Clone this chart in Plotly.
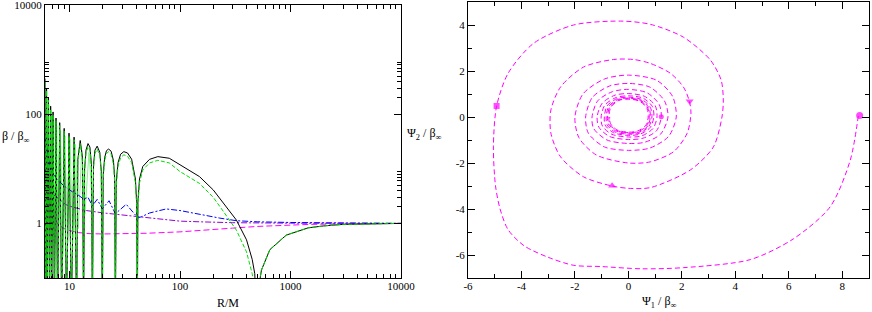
import plotly.graph_objects as go

# ---------------- left panel data (R/M vs beta/beta_inf) ----------------
Z = 0.02  # values below the visible bottom (curve zeros)

black_R = [6.0, 6.1, 6.2, 6.3, 6.45, 6.6, 6.75, 6.9, 7.1, 7.3, 7.55, 7.8, 8.15, 8.5,
           8.95, 9.4, 9.9, 10.4, 11.0, 11.6, 11.9, 12.5, 13.1, 13.4, 13.7, 14.1, 14.7,
           15.3, 15.8, 16.1, 16.5, 17.0, 17.8, 18.8, 19.4, 19.8, 20.2, 20.8, 21.6, 22.6,
           23.8, 25.0, 25.6, 26.0, 26.5, 27.5, 29.0, 31.0, 33.5, 36.5, 39.5, 40.5, 41.1,
           41.6, 43.0, 46.0, 53.0, 63.0, 80.0, 100.0, 150.0, 200.0, 250.0, 324.0, 400.0,
           450.0, 475.0, 490.0, 510.0, 546.0, 650.0, 915.0, 1450.0, 2000.0, 3000.0,
           5000.0, 10000.0]
black_y = [450, Z, 300, Z, 200, Z, 140, Z, 110, Z, 85, Z, 70, Z,
           55, Z, 45, Z, 38, Z, 15, 33, 16, Z, 10, 22, 29,
           25, 12, Z, 12, 22, 26, 20, 9, Z, 8, 16, 21.5, 23,
           21, 14, 7, Z, 6, 13, 18.5, 20.6, 19.5, 15, 6.5, 2.5, Z,
           2.5, 6.5, 11, 14.9, 16.7, 15.6, 11.7, 7.2, 4.1, 2.3, 1.15, 0.5,
           0.22, 0.12, Z, 0.06, 0.14, 0.33, 0.61, 0.83, 0.9, 0.96,
           0.99, 1.0]

green_R = black_R
green_y = [400, Z, 270, Z, 180, Z, 125, Z, 98, Z, 76, Z, 62, Z,
           49, Z, 40, Z, 34, Z, 13, 29, 14, Z, 9, 19, 25.5,
           22, 10, Z, 10, 19, 23, 17.5, 8, Z, 7, 14, 19, 20.5,
           18.5, 12, 6, Z, 5, 11, 16, 18, 17, 13, 5.5, 2.2, Z,
           2.2, 5.5, 9.5, 12.8, 14.3, 12.8, 8.9, 5.4, 3.0, 1.6, 0.75, 0.3,
           0.12, 0.06, Z, 0.06, 0.14, 0.33, 0.61, 0.83, 0.9, 0.96,
           0.99, 1.0]

lgreen_R = [6.0, 6.15, 6.25, 6.4, 6.5, 6.7, 6.85, 7.0, 7.2, 7.4, 7.65, 7.9, 8.3, 8.7,
            9.1, 9.6, 10.1, 10.7, 11.3, 12.0, 12.9, 13.8, 15.0, 16.0]
lgreen_y = [300, 2.0, 200, 1.5, 150, 0.8, 100, 0.5, 80, 0.4, 60, 0.3, 50, 0.25,
            40, 0.35, 35, 0.5, 28, 0.8, 22, 1.5, 20, 3.0]

blue_R = [6.0, 6.2, 6.5, 7.0, 7.5, 8.1, 9.0, 10.6, 12.0, 13.4, 14.7, 16.1, 17.8, 19.8,
          22.8, 26.0, 32.6, 41.6, 45.0, 53.0, 75.0, 100.0, 150.0, 229.0, 324.0, 500.0,
          1000.0, 2000.0, 5000.0, 10000.0]
blue_y = [40, 25, 14, 8.5, 6.8, 5.8, 4.8, 3.8, 3.3, 2.8, 3.0, 2.1, 2.75, 1.85,
          2.6, 1.5, 2.24, 1.26, 1.33, 1.55, 1.84, 1.72, 1.45, 1.25, 1.12, 1.07,
          1.04, 1.02, 1.01, 1.0]

purple_R = [6.3, 6.6, 7.0, 8.0, 9.3, 10.6, 14.2, 20.0, 26.5, 40.0, 53.0, 100.0, 150.0,
            300.0, 1000.0, 10000.0]
purple_y = [5.0, 4.1, 3.5, 2.8, 2.2, 2.0, 1.72, 1.56, 1.47, 1.33, 1.25, 1.1, 1.07,
            1.03, 1.01, 1.0]

magenta_R = [6.0, 6.3, 6.6, 7.0, 7.5, 8.0, 9.0, 10.0, 12.0, 15.0, 20.0, 30.0, 50.0,
             100.0, 200.0, 300.0, 500.0, 1000.0, 1500.0, 3000.0, 10000.0]
magenta_y = [5.0, 3.3, 2.2, 1.5, 1.1, 0.93, 0.8, 0.74, 0.68, 0.65, 0.64, 0.64, 0.66,
             0.70, 0.76, 0.82, 0.88, 0.93, 0.96, 0.98, 1.0]

left_xticks = [10, 100, 1000, 10000]
left_xticklabels = ["10", "100", "1000", "10000"]
left_yticks = [1, 100, 10000]
left_yticklabels = ["1", "100", "10000"]

right_xticks = [-6, -4, -2, 0, 2, 4, 6, 8]
right_xticklabels = ["-6", "-4", "-2", "0", "2", "4", "6", "8"]
right_yticks = [-6, -4, -2, 0, 2, 4]
right_yticklabels = ["-6", "-4", "-2", "0", "2", "4"]

# ---------------- right panel data (Psi1, Psi2 spiral) ----------------
psi1 = [8.6, 8.3, 7.55, 6.17, 4.56, 2.06, 0.5, -1.05, -2.04, -3.0, -3.9, -4.5, -4.8,
        -4.97, -5.05, -4.93,
        -4.5, -3.55, -2.05, -0.3, 0.82, 2.06, 3.07, 3.47, 3.55, 3.5, 3.18, 2.32, 0.82, 0.0,
        -0.61, -1.68, -2.54, -2.9, -2.9, -2.54, -1.68, -0.56, 0.19, 0.82, 1.57, 2.06,
        2.28, 2.34, 2.2, 1.7, 0.82, 0.0, -1.2, -1.85, -2.0, -1.7, -0.9, 0.0, 1.05, 1.65,
        1.79, 1.5, 0.8, 0.0, -0.9, -1.5, -1.6, -1.35, -0.7, 0.0, 0.8, 1.35, 1.48, 1.2,
        0.6, 0.0, -0.8, -1.3, -1.36, -1.15, -0.6, 0.0, 0.7, 1.15, 1.23, 1.05, 0.55, 0.0,
        -0.7, -1.1, -1.17, -0.98, -0.5, 0.0, 0.6, 1.0, 1.07, 0.92, 0.5, 0.0, -0.62,
        -0.97, -1.02, -0.88, -0.45, 0.0, 0.55, 0.9, 0.95, 0.82, 0.45, 0.0, -0.56, -0.87,
        -0.9, -0.8, -0.42, 0.0, 0.5, 0.82, 0.88, 0.76, 0.42, 0.0, -0.52, -0.8, -0.83,
        -0.74, -0.4, 0.0, 0.47, 0.77, 0.82, 0.72, 0.4, 0.0, -0.48, -0.75, -0.78, -0.7,
        -0.38, 0.0, 0.45, 0.73, 0.78, 0.68, 0.38, 0.0, -0.45, -0.7, -0.73, -0.66, -0.36,
        0.0, 0.43, 0.7, 0.74, 0.65, 0.36, 0.0, -0.43, -0.67, -0.7]
psi2 = [0.05, -1.87, -3.9, -5.3, -6.2, -6.55, -6.6, -6.5, -6.45, -6.1, -5.6, -4.9, -4.0,
        -3.0, -1.3, 0.47,
        1.9, 3.2, 4.0, 4.17, 4.03, 3.47, 2.47, 1.6, 0.74, 0.0, -1.3, -2.3, -3.07, -3.1,
        -3.0, -2.6, -1.73, -0.7, 0.3, 1.3, 2.17, 2.5, 2.5, 2.33, 1.9, 1.3,
        0.69, 0.17, -0.7, -1.5, -1.95, -2.0, -1.65, -0.9, 0.0, 1.0, 1.65, 1.82, 1.6, 0.9,
        0.0, -0.85, -1.35, -1.45, -1.3, -0.7, 0.0, 0.85, 1.35, 1.46, 1.3, 0.7, 0.0, -0.75,
        -1.1, -1.15, -1.0, -0.5, 0.0, 0.7, 1.1, 1.2, 1.05, 0.55, 0.01, -0.6, -0.92, -0.98,
        -0.85, -0.45, 0.0, 0.6, 0.95, 1.02, 0.9, 0.5, 0.0, -0.5, -0.82, -0.87, -0.75,
        -0.4, 0.0, 0.52, 0.85, 0.92, 0.82, 0.45, 0.0, -0.45, -0.74, -0.8, -0.68, -0.35,
        0.0, 0.48, 0.8, 0.86, 0.76, 0.42, 0.0, -0.42, -0.7, -0.75, -0.64, -0.33, 0.0,
        0.45, 0.76, 0.82, 0.72, 0.4, 0.0, -0.4, -0.66, -0.71, -0.6, -0.3, 0.0, 0.43,
        0.73, 0.79, 0.7, 0.38, 0.0, -0.38, -0.63, -0.68, -0.58, -0.3, 0.0, 0.42, 0.72,
        0.78, 0.68, 0.36, 0.0, -0.36, -0.6, -0.66, -0.56, -0.28, 0.0]

mark_x = [8.65, -4.93, -0.61, 2.29, 1.23]
mark_y = [0.06, 0.48, -2.99, 0.69, 0.01]
mark_sym = ["circle", "square", "triangle-up", "triangle-down", "circle"]
mark_size = [7, 6, 7, 7, 5]

MAG = "#ff00ff"
FONT = "Liberation Serif"

fig = go.Figure()

def left(x, y, color, dash, width=1.0):
    fig.add_trace(go.Scatter(x=x, y=y, mode="lines", xaxis="x", yaxis="y",
                             line=dict(color=color, dash=dash, width=width),
                             showlegend=False, hoverinfo="skip"))

left(lgreen_R, lgreen_y, "#90ee90", "solid", 1.0)
left(magenta_R, magenta_y, MAG, "6px,3px", 1.0)
left(purple_R, purple_y, "#9400d3", "6px,2px,2px,2px", 1.0)
left(blue_R, blue_y, "#0000ff", "6px,2px,2px,2px", 1.0)
left(black_R, black_y, "#000000", "solid", 1.0)
left(green_R, green_y, "#00e000", "4px,2px", 1.0)

fig.add_trace(go.Scatter(x=psi1, y=psi2, mode="lines", xaxis="x2", yaxis="y2",
                         line=dict(color=MAG, dash="5px,3px", width=1.0, shape="spline",
                                   smoothing=0.8),
                         showlegend=False, hoverinfo="skip"))
fig.add_trace(go.Scatter(x=mark_x, y=mark_y, mode="markers", xaxis="x2", yaxis="y2",
                         marker=dict(color=MAG, symbol=mark_sym, size=mark_size,
                                     line=dict(width=0)),
                         showlegend=False, hoverinfo="skip"))

def minor_log(lo, hi):
    vals = []
    d = lo
    while d < hi:
        for k in range(2, 10):
            vals.append(k * d)
        d *= 10
    return vals

axis_common = dict(showline=True, linecolor="black", linewidth=1, mirror="allticks",
                   ticks="inside", ticklen=7, tickcolor="black", tickwidth=1,
                   showgrid=False, zeroline=False,
                   tickfont=dict(family=FONT, size=11, color="black"))

fig.update_layout(
    width=872, height=312, margin=dict(l=0, r=0, t=0, b=0, autoexpand=False),
    paper_bgcolor="white", plot_bgcolor="white", hovermode=False,
    xaxis=dict(domain=[45 / 872, 401 / 872], type="log",
               range=[0.7782, 4.0], tickvals=left_xticks, ticktext=left_xticklabels,
               minor=dict(tickvals=minor_log(1, 10000), ticklen=4, ticks="inside",
                          tickcolor="black"),
               ticklabelstandoff=-2,
               anchor="y", **axis_common),
    yaxis=dict(domain=[34 / 312, 307 / 312], type="log",
               range=[-1, 4.0], tickvals=left_yticks, ticktext=left_yticklabels,
               minor=dict(tickvals=[2, 3, 4, 5, 6, 7, 8, 9, 200, 300, 400, 500, 600,
                                    700, 800, 900],
                          ticklen=4, ticks="inside", tickcolor="black"),
               ticklabeloverflow="allow",
               anchor="x", **axis_common),
    xaxis2=dict(domain=[468 / 872, 869 / 872], range=[-6, 9],
                tickvals=right_xticks, ticktext=right_xticklabels,
                minor=dict(dtick=1, tick0=0, ticklen=4, ticks="inside",
                           tickcolor="black"),
                ticklabelstandoff=-2,
                anchor="y2", **axis_common),
    yaxis2=dict(domain=[34 / 312, 310 / 312], range=[-7, 5],
                tickvals=right_yticks, ticktext=right_yticklabels,
                minor=dict(dtick=1, tick0=0, ticklen=4, ticks="inside",
                           tickcolor="black"),
                anchor="x2", **axis_common),
)

tfont = dict(family=FONT, size=12, color="black")
fig.add_annotation(x=0, y=(312 - 137) / 312, xref="paper", yref="paper",
                   xanchor="left", yanchor="middle",
                   text="β / β<sub>∞</sub>", showarrow=False, font=tfont)
fig.add_annotation(x=215 / 872, y=0, xref="paper", yref="paper",
                   xanchor="left", yanchor="bottom",
                   text="R/M", showarrow=False, font=tfont)
fig.add_annotation(x=405 / 872, y=(312 - 134) / 312, xref="paper", yref="paper",
                   xanchor="left", yanchor="middle",
                   text="Ψ<sub>2</sub> / β<sub>∞</sub>", showarrow=False, font=tfont)
fig.add_annotation(x=640 / 872, y=0, xref="paper", yref="paper",
                   xanchor="left", yanchor="bottom",
                   text="Ψ<sub>1</sub> / β<sub>∞</sub>", showarrow=False, font=tfont)

fig.write_html("out.html", config={"displayModeBar": False, "staticPlot": True},
               post_script="document.body.style.margin='0';"
                           "document.body.style.overflow='hidden';")
